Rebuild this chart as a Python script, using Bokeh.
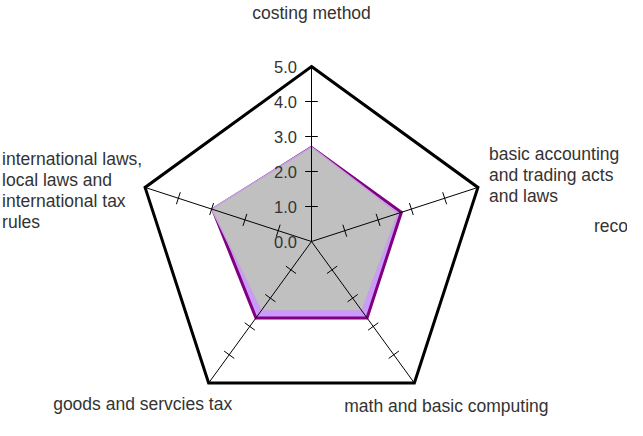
import numpy as np
from bokeh.plotting import figure
from bokeh.models import Range1d
from bokeh.core.properties import value
from bokeh.embed import file_html
from bokeh.resources import INLINE

categories = ["costing method",
              "basic accounting\nand trading acts\nand laws",
              "math and basic computing",
              "goods and servcies tax",
              "international laws,\nlocal laws and\ninternational tax\nrules"]
recommended = [2.69, 2.7, 2.7, 2.7, 2.97]
current = [2.7, 2.6, 2.45, 2.45, 3.0]
tick_values = [0, 1, 2, 3, 4, 5]
tick_labels = ["0.0", "1.0", "2.0", "3.0", "4.0", "5.0"]
max_value = 5
legend_label = "recommended"

W, H = 627, 420
PX = 35.0            # pixels per unit
cx, cy = 311, 241    # centre in figure pixels
FONT = value("Liberation Sans")

p = figure(width=W, height=H, output_backend="svg", toolbar_location=None,
           x_range=Range1d(-cx / PX, (W - cx) / PX),
           y_range=Range1d(-(H - cy) / PX, cy / PX),
           min_border=0)
p.axis.visible = False
p.grid.visible = False
p.outline_line_color = None
p.background_fill_color = "white"

n = len(categories)
ang = np.pi / 2 - np.arange(n) * 2 * np.pi / n
ca, sa = np.cos(ang), np.sin(ang)

def poly(vals):
    v = np.asarray(vals, dtype=float)
    return list(v * ca), list(v * sa)

# series polygons
rx, ry = poly(recommended)
p.patch(rx, ry, fill_color="#cc99ff", line_color="#800080", line_width=3, line_join="miter")
gx, gy = poly(current)
p.patch(gx, gy, fill_color="#c0c0c0", line_color="#c4a4dc", line_width=1.5, line_join="miter")

# spokes
p.segment(x0=[0] * n, y0=[0] * n, x1=list(max_value * ca), y1=list(max_value * sa),
          line_color="black", line_width=1)

# tick marks on spokes
half = 6.3 / PX
tx0, ty0, tx1, ty1 = [], [], [], []
for i in range(n):
    for k in tick_values[1:-1]:
        mx, my = k * ca[i], k * sa[i]
        px_, py_ = -sa[i], ca[i]
        tx0.append(mx - half * px_); ty0.append(my - half * py_)
        tx1.append(mx + half * px_); ty1.append(my + half * py_)
p.segment(x0=tx0, y0=ty0, x1=tx1, y1=ty1, line_color="black", line_width=1)

# outer pentagon
ox, oy = poly([max_value] * n)
p.patch(ox, oy, fill_color=None, line_color="black", line_width=3, line_join="miter")

# tick labels on top axis
p.text(x=[0] * len(tick_values), y=tick_values, text=tick_labels,
       x_offset=-14.5, text_align="right", text_baseline="middle",
       text_font=FONT, text_font_size="16.5px", text_color="#333333")

# category labels
offsets = [(0, -54, "center"), (11, -12, "left"), (32, 23, "center"),
           (-66, 21, "center"), (-143, 3, "left")]
for i, lab in enumerate(categories):
    xo, yo, al = offsets[i]
    p.text(x=[max_value * ca[i]], y=[max_value * sa[i]], text=[lab],
           x_offset=xo, y_offset=yo, text_align=al, text_baseline="middle",
           text_line_height=1.05,
           text_font=FONT, text_font_size="17.5px", text_color="#333333")

# partially visible legend entry
p.text(x=[max_value * ca[1]], y=[max_value * sa[1]], text=[legend_label],
       x_offset=116, y_offset=39, text_align="left", text_baseline="middle",
       text_font=FONT, text_font_size="17.5px", text_color="#333333")

open("out.html", "w").write(file_html(p, INLINE))
